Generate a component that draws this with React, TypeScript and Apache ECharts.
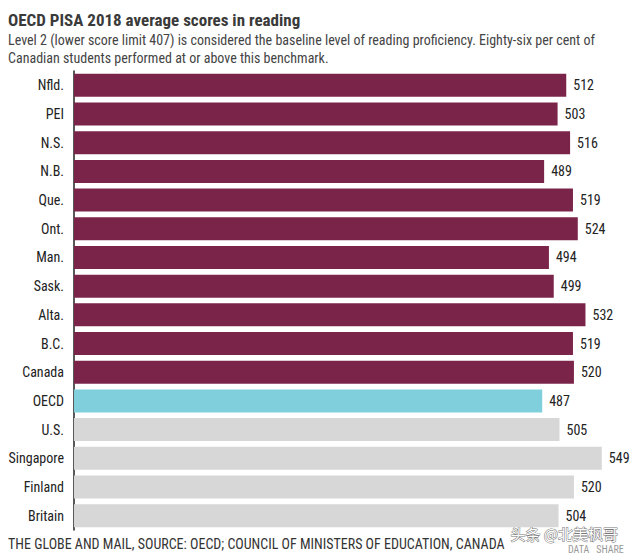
import React, { useEffect, useRef } from "react";
import * as echarts from "echarts";

const categories = ["Nfld.", "PEI", "N.S.", "N.B.", "Que.", "Ont.", "Man.", "Sask.", "Alta.", "B.C.", "Canada", "OECD", "U.S.", "Singapore", "Finland", "Britain"];
const scores = [512, 503, 516, 489, 519, 524, 494, 499, 532, 519, 520, 487, 505, 549, 520, 504];
const groups = ["ca", "ca", "ca", "ca", "ca", "ca", "ca", "ca", "ca", "ca", "ca", "oecd", "other", "other", "other", "other"];

const titleText = "OECD PISA 2018 average scores in reading";
const subtitleText = "Level 2 (lower score limit 407) is considered the baseline level of reading proficiency. Eighty-six per cent of\nCanadian students performed at or above this benchmark.";
const footerText = "THE GLOBE AND MAIL, SOURCE: OECD; COUNCIL OF MINISTERS OF EDUCATION, CANADA";

const FONT = "'Liberation Sans Narrow', 'Roboto Condensed', 'DejaVu Sans Condensed', sans-serif";
const colorMap: Record<string, string> = { ca: "#7B2449", oecd: "#80CFDD", other: "#D7D7D7" };

export default function App() {
  const ref = useRef<HTMLDivElement>(null);
  useEffect(() => {
    if (!ref.current) return;
    const chart = echarts.init(ref.current, null, { renderer: "svg" });
    chart.setOption({
      animation: false,
      backgroundColor: "#fff",
      textStyle: { fontFamily: FONT },
      grid: { left: 74, top: 71, width: 548, height: 459, containLabel: false },
      xAxis: {
        type: "value",
        min: 0,
        max: 570,
        show: false,
      },
      yAxis: {
        type: "category",
        data: categories,
        inverse: true,
        axisLine: { show: true, lineStyle: { color: "#222", width: 1.5 } },
        axisTick: { show: false },
        axisLabel: { color: "#222", fontSize: 14, margin: 10, fontFamily: FONT },
        splitLine: { show: false },
      },
      series: [
        {
          type: "bar",
          data: scores.map((v, i) => ({ value: v, itemStyle: { color: colorMap[groups[i]] } })),
          barCategoryGap: "20%",
          label: { show: true, position: "right", distance: 7, color: "#222", fontSize: 14, fontFamily: FONT },
        },
      ],
      graphic: [
        { type: "text", left: 8, top: 11, style: { text: titleText, fontSize: 17, fontWeight: "bold", fill: "#3a3a3a", fontFamily: FONT } },
        { type: "text", left: 8, top: 31, style: { text: subtitleText, fontSize: 14, lineHeight: 18, fill: "#444", fontFamily: FONT } },
        { type: "text", left: 8, top: 537, style: { text: footerText, fontSize: 14, fill: "#333", fontFamily: FONT } },
        { type: "text", left: 510, top: 525, style: { text: "头条 @北美枫哥", fontSize: 15, lineHeight: 17, fill: "#fff", stroke: "#777", lineWidth: 1, fontFamily: "'Noto Sans CJK SC', sans-serif" } },
        { type: "text", left: 568, top: 544, style: { text: "DATA   SHARE", fontSize: 10, lineHeight: 11, fill: "#999", fontFamily: FONT } },
      ],
    });
    return () => chart.dispose();
  }, []);
  return <div ref={ref} style={{ width: 640, height: 556, position: "absolute", left: 0, top: 0 }} />;
}
